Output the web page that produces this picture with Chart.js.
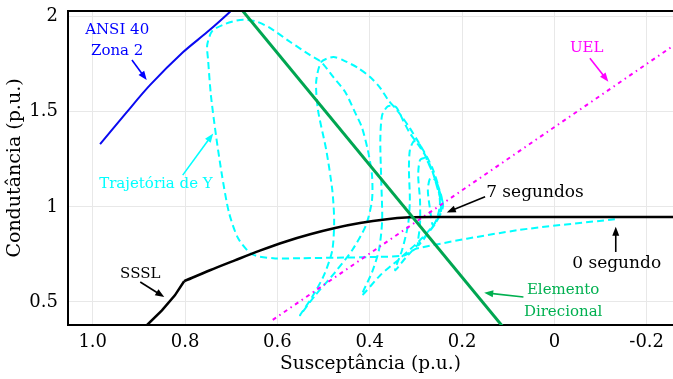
<!DOCTYPE html>
<html lang="pt-BR">
<head>
<meta charset="utf-8">
<title>Trajetória da admitância</title>
<script src="https://cdn.jsdelivr.net/npm/chart.js@4.4.1/dist/chart.umd.min.js"></script>
<style>
  html, body { margin: 0; padding: 0; background: #fff; }
  canvas { display: block; }
</style>
</head>
<body>
<canvas id="plano" width="673" height="379"></canvas>
<script>
// eixo x = susceptância B (invertido), eixo y = condutância G, tudo em p.u.
const xTicks = [1.0, 0.8, 0.6, 0.4, 0.2, 0, -0.2];
const xTickLabels = ['1.0', '0.8', '0.6', '0.4', '0.2', '0', '-0.2'];
const yTicks = [0.5, 1, 1.5, 2];
const yTickLabels = ['0.5', '1', '1.5', '2'];

// ANSI 40 - zona 2
const ansiB = [0.984, 0.928, 0.876, 0.804, 0.752, 0.703, 0.690];
const ansiG = [1.330, 1.493, 1.640, 1.814, 1.919, 2.025, 2.060];

// SSSL: trecho reto inferior e arco até o patamar
const ssslRetoB = [0.890, 0.883, 0.850, 0.822, 0.802];
const ssslRetoG = [0.345, 0.377, 0.456, 0.535, 0.609];
const ssslArcoB = [0.802, 0.746, 0.692, 0.638, 0.583, 0.529, 0.475, 0.421, 0.367, 0.313, 0.269, -0.300];
const ssslArcoG = [0.609, 0.667, 0.719, 0.770, 0.817, 0.856, 0.889, 0.915, 0.934, 0.945, 0.947, 0.947];

// elemento direcional
const dirB = [0.700, 0.100];
const dirG = [2.104, 0.336];

// UEL
const uelB = [0.610, -0.270];
const uelG = [0.406, 1.868];

// trajetória de Y, de 0 s até 7 s
const trajB = [
  -0.131, 0.081, 0.298, 0.325, 0.400, 0.471, 0.551, 0.609, 0.655, 0.685, 0.705, 0.720, 0.733, 0.744, 0.750, 0.752,
  0.741, 0.713, 0.681, 0.648, 0.616, 0.572, 0.529, 0.505,
  0.479, 0.453, 0.432, 0.417, 0.404, 0.395, 0.395, 0.408, 0.438, 0.475, 0.518, 0.551,
  0.525, 0.499, 0.481, 0.477, 0.481, 0.494, 0.512, 0.516, 0.505, 0.479, 0.458, 0.425, 0.399, 0.377, 0.360, 0.341,
  0.328, 0.313, 0.297, 0.284, 0.265, 0.252, 0.248, 0.258, 0.291, 0.334, 0.377, 0.417,
  0.395, 0.380, 0.373, 0.375, 0.377, 0.373, 0.360, 0.343, 0.328, 0.313, 0.291, 0.276, 0.265, 0.252, 0.245, 0.256,
  0.287, 0.323, 0.345,
  0.330, 0.317, 0.313, 0.315, 0.313, 0.304, 0.291, 0.269, 0.254, 0.243, 0.248, 0.269, 0.295,
  0.291, 0.291, 0.295, 0.291, 0.280, 0.265, 0.252, 0.241, 0.248, 0.263,
  0.269, 0.274, 0.269, 0.258, 0.248, 0.241, 0.248
];
const trajG = [
  0.935, 0.877, 0.781, 0.745, 0.736, 0.733, 0.730, 0.730, 0.751, 0.835, 0.972, 1.167, 1.377, 1.588, 1.772, 1.851,
  1.925, 1.962, 1.983, 1.977, 1.941, 1.867, 1.798, 1.762,
  1.683, 1.604, 1.498, 1.419, 1.298, 1.167, 1.035, 0.904, 0.772, 0.656, 0.535, 0.430,
  0.525, 0.641, 0.772, 0.930, 1.088, 1.298, 1.509, 1.656, 1.762, 1.788, 1.772, 1.730, 1.683, 1.625, 1.562, 1.509,
  1.467, 1.414, 1.351, 1.298, 1.209, 1.114, 1.009, 0.919, 0.825, 0.730, 0.641, 0.535,
  0.656, 0.772, 0.930, 1.141, 1.351, 1.483, 1.530, 1.525, 1.456, 1.388, 1.314, 1.256, 1.193, 1.088, 1.009, 0.919,
  0.825, 0.730, 0.667,
  0.772, 0.904, 1.035, 1.193, 1.298, 1.346, 1.325, 1.209, 1.125, 1.035, 0.956, 0.877, 0.798,
  0.904, 1.035, 1.167, 1.246, 1.256, 1.193, 1.088, 1.009, 0.956, 0.904,
  0.983, 1.088, 1.151, 1.141, 1.077, 1.009, 0.972
];

// textos e setas (posições em p.u.)
const notas = [
  { linhas: ['ANSI 40', 'Zona 2'], b: 0.947, g: 1.930, passo: 21, cor: '#0000ff', tam: 15, seta: [0.915, 1.772, 0.883, 1.667] },
  { linhas: ['Trajetória de Y'], b: 0.863, g: 1.119, cor: '#00ffff', tam: 15, seta: [0.805, 1.167, 0.739, 1.386] },
  { linhas: ['UEL'], b: -0.070, g: 1.834, cor: '#ff00ff', tam: 15, seta: [-0.077, 1.781, -0.117, 1.658] },
  { linhas: ['7 segundos'], b: 0.042, g: 1.074, cor: '#000000', tam: 17, seta: [0.150, 1.053, 0.233, 0.971] },
  { linhas: ['0 segundo'], b: -0.135, g: 0.702, cor: '#000000', tam: 17, seta: [-0.133, 0.763, -0.133, 0.895] },
  { linhas: ['SSSL'], b: 0.897, g: 0.649, cor: '#000000', tam: 15, seta: [0.897, 0.605, 0.845, 0.526] },
  { linhas: ['Elemento', 'Direcional'], b: -0.019, g: 0.562, passo: 21.7, cor: '#00b050', tam: 15, seta: [0.067, 0.526, 0.152, 0.549] }
];

const fonte = 'DejaVu Serif';

function pares(bs, gs) {
  return bs.map((b, i) => ({ x: b, y: gs[i] }));
}

function desenhaSeta(ctx, x1, y1, x2, y2, cor) {
  const ang = Math.atan2(y2 - y1, x2 - x1);
  const L = 9, W = 3.5;
  ctx.strokeStyle = cor;
  ctx.fillStyle = cor;
  ctx.lineWidth = 1.6;
  ctx.beginPath();
  ctx.moveTo(x1, y1);
  ctx.lineTo(x2 - L * 0.7 * Math.cos(ang), y2 - L * 0.7 * Math.sin(ang));
  ctx.stroke();
  ctx.beginPath();
  ctx.moveTo(x2, y2);
  ctx.lineTo(x2 - L * Math.cos(ang) + W * Math.sin(ang), y2 - L * Math.sin(ang) - W * Math.cos(ang));
  ctx.lineTo(x2 - L * Math.cos(ang) - W * Math.sin(ang), y2 - L * Math.sin(ang) + W * Math.cos(ang));
  ctx.closePath();
  ctx.fill();
}

const pluginNotas = {
  id: 'notas',
  afterDraw(chart) {
    const { ctx, chartArea, scales } = chart;
    const sx = scales.x, sy = scales.y;
    ctx.save();
    // linha de borda superior
    ctx.strokeStyle = '#000';
    ctx.lineWidth = 2;
    ctx.beginPath();
    ctx.moveTo(chartArea.left, chartArea.top);
    ctx.lineTo(chartArea.right, chartArea.top);
    ctx.stroke();

    notas.forEach(n => {
      const px = sx.getPixelForValue(n.b);
      const py = sy.getPixelForValue(n.g);
      ctx.font = n.tam + 'px "' + fonte + '"';
      ctx.fillStyle = n.cor;
      ctx.textAlign = 'center';
      ctx.textBaseline = 'middle';
      n.linhas.forEach((t, i) => ctx.fillText(t, px, py + i * (n.passo || 0)));
      const s = n.seta;
      desenhaSeta(ctx,
        sx.getPixelForValue(s[0]), sy.getPixelForValue(s[1]),
        sx.getPixelForValue(s[2]), sy.getPixelForValue(s[3]), n.cor);
    });
    ctx.restore();
  }
};

document.addEventListener('DOMContentLoaded', () => {
  const ctx = document.getElementById('plano').getContext('2d');
  const grafico = new Chart(ctx, {
    type: 'scatter',
    data: {
      datasets: [
        { label: 'Elemento Direcional', data: pares(dirB, dirG), borderColor: '#00a651', borderWidth: 3 },
        { label: 'SSSL', data: pares(ssslRetoB, ssslRetoG), borderColor: '#000000', borderWidth: 2.5 },
        { label: 'SSSL arco', data: pares(ssslArcoB, ssslArcoG), borderColor: '#000000', borderWidth: 2.5, tension: 0.3 },
        { label: 'ANSI 40 Zona 2', data: pares(ansiB, ansiG), borderColor: '#0a0af0', borderWidth: 2, tension: 0.3 },
        { label: 'UEL', data: pares(uelB, uelG), borderColor: '#ff00ff', borderWidth: 2, borderDash: [4, 4, 1.5, 4] },
        { label: 'Trajetória de Y', data: pares(trajB, trajG), borderColor: '#00ffff', borderWidth: 2, borderDash: [7, 4], tension: 0.25 }
      ].map(d => Object.assign({ showLine: true, pointRadius: 0, fill: false }, d))
    },
    options: {
      responsive: false,
      animation: false,
      devicePixelRatio: 1,
      layout: { padding: { top: 11, left: 0, right: 0, bottom: 0 } },
      plugins: {
        legend: { display: false },
        tooltip: { enabled: false }
      },
      scales: {
        x: {
          type: 'linear',
          reverse: true,
          min: -0.257,
          max: 1.0535,
          afterBuildTicks: (scale) => { scale.ticks = xTicks.map(v => ({ value: v })); },
          afterFit: (scale) => { scale.height = 54; scale.paddingLeft = 0; scale.paddingRight = 0; },
          ticks: {
            padding: 7,
            color: '#000',
            font: { family: fonte, size: 18 },
            maxRotation: 0,
            autoSkip: false,
            callback: (v) => xTickLabels[xTicks.indexOf(v)]
          },
          grid: { color: '#e8e8e8', lineWidth: 1, drawTicks: false },
          border: { color: '#000', width: 2 },
          title: {
            display: true,
            text: 'Susceptância (p.u.)',
            color: '#000',
            font: { family: fonte, size: 18.5 },
            padding: { top: 0, bottom: 4 }
          }
        },
        y: {
          type: 'linear',
          min: 0.379,
          max: 2.03,
          afterBuildTicks: (scale) => { scale.ticks = yTicks.map(v => ({ value: v })); },
          afterFit: (scale) => { scale.width = 68; scale.paddingTop = 0; scale.paddingBottom = 0; },
          ticks: {
            padding: 10,
            color: '#000',
            font: { family: fonte, size: 18 },
            callback: (v) => yTickLabels[yTicks.indexOf(v)]
          },
          grid: { color: '#e8e8e8', lineWidth: 1, drawTicks: false },
          border: { color: '#000', width: 2 },
          title: {
            display: true,
            text: 'Condutância (p.u.)',
            color: '#000',
            font: { family: fonte, size: 19 },
            padding: { top: 4, bottom: 0 }
          }
        }
      }
    },
    plugins: [pluginNotas]
  });
});
</script>
</body>
</html>
